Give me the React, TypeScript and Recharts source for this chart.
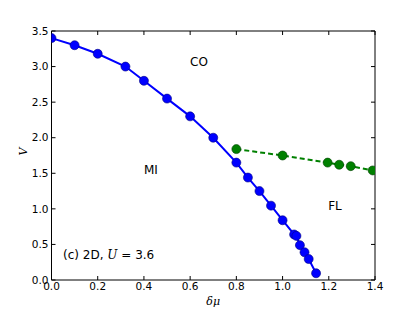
import { ComposedChart, Line, XAxis, YAxis, ReferenceDot } from "recharts"

const xTicks = [0, 0.2, 0.4, 0.6, 0.8, 1.0, 1.2, 1.4]
const yTicks = [0, 0.5, 1.0, 1.5, 2.0, 2.5, 3.0, 3.5]

const miMu = [0, 0.1, 0.2, 0.32, 0.4, 0.5, 0.6, 0.7, 0.8, 0.85, 0.9, 0.95, 1.0, 1.05, 1.06, 1.075, 1.095, 1.113, 1.145]
const miV = [3.4, 3.3, 3.18, 3.0, 2.8, 2.55, 2.3, 2.0, 1.65, 1.44, 1.25, 1.045, 0.84, 0.64, 0.62, 0.49, 0.39, 0.295, 0.095]

const flMu = [0.8, 1.0, 1.195, 1.245, 1.295, 1.39]
const flV = [1.84, 1.75, 1.65, 1.62, 1.6, 1.54]

const miData = miMu.map((x, i) => ({ x, v: miV[i] }))
const flData = flMu.map((x, i) => ({ x, v: flV[i] }))

const font = "DejaVu Sans, sans-serif"
const fmt = (v: number) => v.toFixed(1)
const blank = () => ""

export default function App() {
    return (
        <div style={{ position: "absolute", left: 0, top: 0 }}>
            <ComposedChart width={415} height={312} margin={{ top: 30, right: 39, left: 11.5, bottom: 12 }}>
                <XAxis
                    xAxisId="b" type="number" dataKey="x" domain={[0, 1.4]} ticks={xTicks} tickFormatter={fmt}
                    allowDataOverflow height={20} tickSize={-4} tickMargin={7}
                    stroke="#000" tick={{ fill: "#000", fontSize: 10.5, fontFamily: font }}
                    label={{ value: "δμ", position: "insideBottom", offset: -5, fill: "#000", fontSize: 11, fontStyle: "italic", fontFamily: "DejaVu Serif, serif" }}
                />
                <XAxis xAxisId="t" orientation="top" type="number" dataKey="x" domain={[0, 1.4]} ticks={xTicks}
                    allowDataOverflow height={1} tickSize={-4} tickFormatter={blank} stroke="#000" />
                <YAxis
                    yAxisId="l" type="number" domain={[0, 3.5]} ticks={yTicks} tickFormatter={fmt}
                    allowDataOverflow width={40} tickSize={-4} tickMargin={7}
                    stroke="#000" tick={{ fill: "#000", fontSize: 10.5, fontFamily: font }}
                    label={{ value: "V", angle: -90, position: "insideLeft", offset: 12, fill: "#000", fontSize: 11, fontStyle: "italic", fontFamily: "DejaVu Serif, serif" }}
                />
                <YAxis yAxisId="r" orientation="right" type="number" domain={[0, 3.5]} ticks={yTicks}
                    allowDataOverflow width={1} tickSize={-4} tickFormatter={blank} stroke="#000" />

                <Line xAxisId="b" yAxisId="l" data={miData} dataKey="v" stroke="#0000ff" strokeWidth={2}
                    dot={{ r: 4.5, fill: "#0000ff", stroke: "#00007f", strokeWidth: 0.6 }} isAnimationActive={false} />
                <Line xAxisId="b" yAxisId="l" data={flData} dataKey="v" stroke="#008000" strokeWidth={2} strokeDasharray="5 3"
                    dot={{ r: 4.5, fill: "#008000", stroke: "#003f00", strokeWidth: 0.6, strokeDasharray: "0" }} isAnimationActive={false} />

                <ReferenceDot xAxisId="b" yAxisId="l" x={0.638} y={3.07} r={0} fill="none" stroke="none"
                    label={{ value: "CO", position: "center", fill: "#000", fontSize: 12, fontFamily: font }} />
                <ReferenceDot xAxisId="b" yAxisId="l" x={0.43} y={1.55} r={0} fill="none" stroke="none"
                    label={{ value: "MI", position: "center", fill: "#000", fontSize: 12, fontFamily: font }} />
                <ReferenceDot xAxisId="b" yAxisId="l" x={1.227} y={1.05} r={0} fill="none" stroke="none"
                    label={{ value: "FL", position: "center", fill: "#000", fontSize: 12, fontFamily: font }} />
                <ReferenceDot xAxisId="b" yAxisId="l" x={0.05} y={0.35} r={0} fill="none" stroke="none"
                    label={{
                        content: (p: any) => {
                            const vb = p.viewBox || {}
                            return (
                                <text x={vb.x} y={vb.y} dy="0.35em" fontSize={12} fontFamily={font} fill="#000">
                                    <tspan>(c) 2D, </tspan>
                                    <tspan fontStyle="italic" fontFamily="DejaVu Serif, serif">U</tspan>
                                    <tspan> = 3.6</tspan>
                                </text>
                            )
                        },
                    }} />
            </ComposedChart>
        </div>
    )
}
